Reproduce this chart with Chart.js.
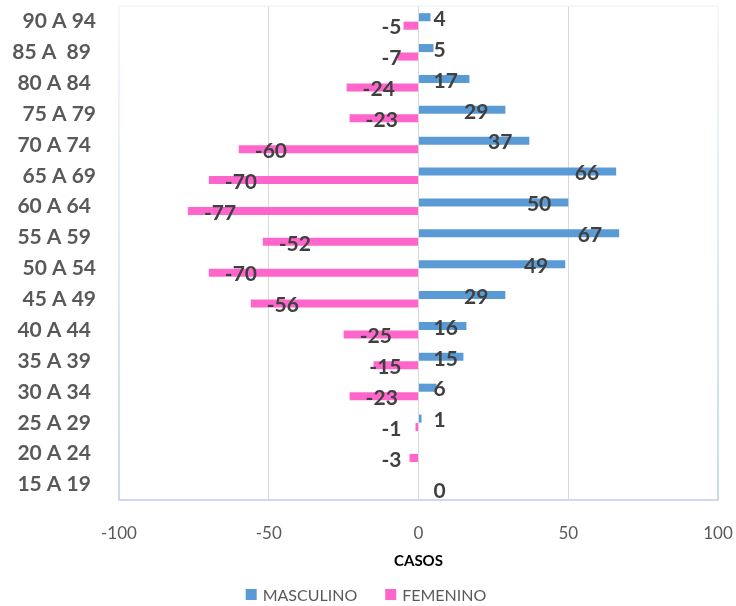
<!DOCTYPE html>
<html lang="es">
<head>
    <meta charset="UTF-8">
    <title>Pirámide de casos por edad</title>
    <script src="https://cdn.jsdelivr.net/npm/chart.js"></script>
    <style>
        body {
            margin: 0;
            background-color: white;
        }
        #wrap {
            width: 736px;
            height: 606px;
        }
    </style>
</head>
<body>
    <div id="wrap">
        <canvas id="pyramid" width="736" height="606"></canvas>
    </div>

    <script>
        // Grupos de edad (de arriba hacia abajo)
        const grupos = ['90 A 94', '85 A  89 ', '80 A 84 ', '75 A 79', '70 A 74 ', '65 A 69', '60 A 64 ', '55 A 59 ',
                        '50 A 54', '45 A 49', '40 A 44 ', '35 A 39 ', '30 A 34 ', '25 A 29 ', '20 A 24 ', '15 A 19 '];
        const masculino = [4, 5, 17, 29, 37, 66, 50, 67, 49, 29, 16, 15, 6, 1, null, null];
        const femenino = [-5, -7, -24, -23, -60, -70, -77, -52, -70, -56, -25, -15, -23, -1, -3, 0];
        const ticksX = [-100, -50, 0, 50, 100];

        const gris = '#595959';

        // Etiquetas de datos al estilo Excel
        const etiquetas = {
            id: 'etiquetas',
            afterDatasetsDraw(chart) {
                const ctx = chart.ctx;
                const cero = chart.scales.x.getPixelForValue(0);
                ctx.save();
                ctx.font = 'bold 21px Lato';
                ctx.fillStyle = '#404040';
                ctx.textBaseline = 'middle';
                chart.data.datasets.forEach((ds, i) => {
                    const meta = chart.getDatasetMeta(i);
                    meta.data.forEach((bar, j) => {
                        const v = ds.data[j];
                        if (v === null || v === undefined) return;
                        const txt = String(v);
                        const w = ctx.measureText(txt).width;
                        let left;
                        if (v >= 0) {
                            left = Math.max(bar.x - 17 - w, cero + 15);
                        } else {
                            left = Math.min(bar.x + 16, cero - 17 - w);
                        }
                        ctx.textAlign = 'left';
                        ctx.fillText(txt, left, bar.y + 2);
                    });
                });
                ctx.restore();
            }
        };

        // Borde del área de trazado
        const borde = {
            id: 'borde',
            beforeDatasetsDraw(chart) {
                const a = chart.chartArea;
                const ctx = chart.ctx;
                const g = ctx.createLinearGradient(0, a.top, 0, a.bottom);
                g.addColorStop(0, '#f2f5fa');
                g.addColorStop(1, '#b9cde9');
                ctx.save();
                ctx.strokeStyle = g;
                ctx.lineWidth = 1.5;
                ctx.strokeRect(a.left, a.top, a.right - a.left, a.bottom - a.top);
                ctx.restore();
            }
        };

        // Leyenda inferior (cuadros separados como en Excel)
        const leyenda = {
            id: 'leyenda',
            afterDraw(chart) {
                const ctx = chart.ctx;
                const caja = 11, hueco = 6, entre = 28;
                const y = 594.5;
                ctx.save();
                ctx.font = '16px Lato';
                ctx.textBaseline = 'middle';
                ctx.textAlign = 'left';
                const items = chart.data.datasets.map(ds => ({
                    texto: ds.label,
                    color: ds.backgroundColor,
                    w: ctx.measureText(ds.label).width
                }));
                let total = items.reduce((s, it) => s + caja + hueco + it.w, 0) + entre * (items.length - 1);
                let x = 366 - total / 2;
                items.forEach(it => {
                    ctx.fillStyle = it.color;
                    ctx.fillRect(x, y - caja / 2, caja, caja);
                    x += caja + hueco;
                    ctx.fillStyle = gris;
                    ctx.fillText(it.texto, x, y + 1);
                    x += it.w + entre;
                });
                ctx.restore();
            }
        };

        const ctx = document.getElementById('pyramid').getContext('2d');
        new Chart(ctx, {
            type: 'bar',
            data: {
                labels: grupos,
                datasets: [{
                    label: 'MASCULINO',
                    data: masculino,
                    backgroundColor: '#5b9bd5',
                    categoryPercentage: 0.55,
                    barPercentage: 0.95
                }, {
                    label: 'FEMENINO',
                    data: femenino,
                    backgroundColor: '#ff66cc',
                    categoryPercentage: 0.55,
                    barPercentage: 0.95
                }]
            },
            options: {
                indexAxis: 'y',
                responsive: false,
                animation: false,
                layout: {
                    padding: { left: 0, right: 18, top: 6, bottom: 32 }
                },
                scales: {
                    x: {
                        min: -100,
                        max: 100,
                        afterBuildTicks(scale) {
                            scale.ticks = ticksX.map(v => ({ value: v }));
                        },
                        afterFit(scale) {
                            scale.height = 74;
                            scale.paddingLeft = 0;
                            scale.paddingRight = 0;
                        },
                        border: { display: false },
                        grid: {
                            drawTicks: false,
                            color: c => (c.tick && Math.abs(c.tick.value) === 100) ? 'rgba(0,0,0,0)' : '#d9d9d9'
                        },
                        ticks: {
                            padding: 23,
                            color: gris,
                            font: { family: 'Lato', size: 17 }
                        },
                        title: {
                            display: true,
                            text: 'CASOS',
                            color: '#000',
                            padding: { top: 4, bottom: 4 },
                            font: { family: 'Lato', size: 15, weight: 'bold' }
                        }
                    },
                    y: {
                        afterFit(scale) {
                            scale.width = 119;
                            scale.paddingTop = 0;
                            scale.paddingBottom = 0;
                        },
                        border: { display: false },
                        grid: { display: false, drawTicks: false },
                        ticks: {
                            padding: 23,
                            color: gris,
                            autoSkip: false,
                            font: { family: 'Lato', size: 21, weight: 'bold' }
                        }
                    }
                },
                plugins: {
                    legend: { display: false },
                    tooltip: { enabled: false }
                }
            },
            plugins: [borde, etiquetas, leyenda]
        });
    </script>
</body>
</html>
